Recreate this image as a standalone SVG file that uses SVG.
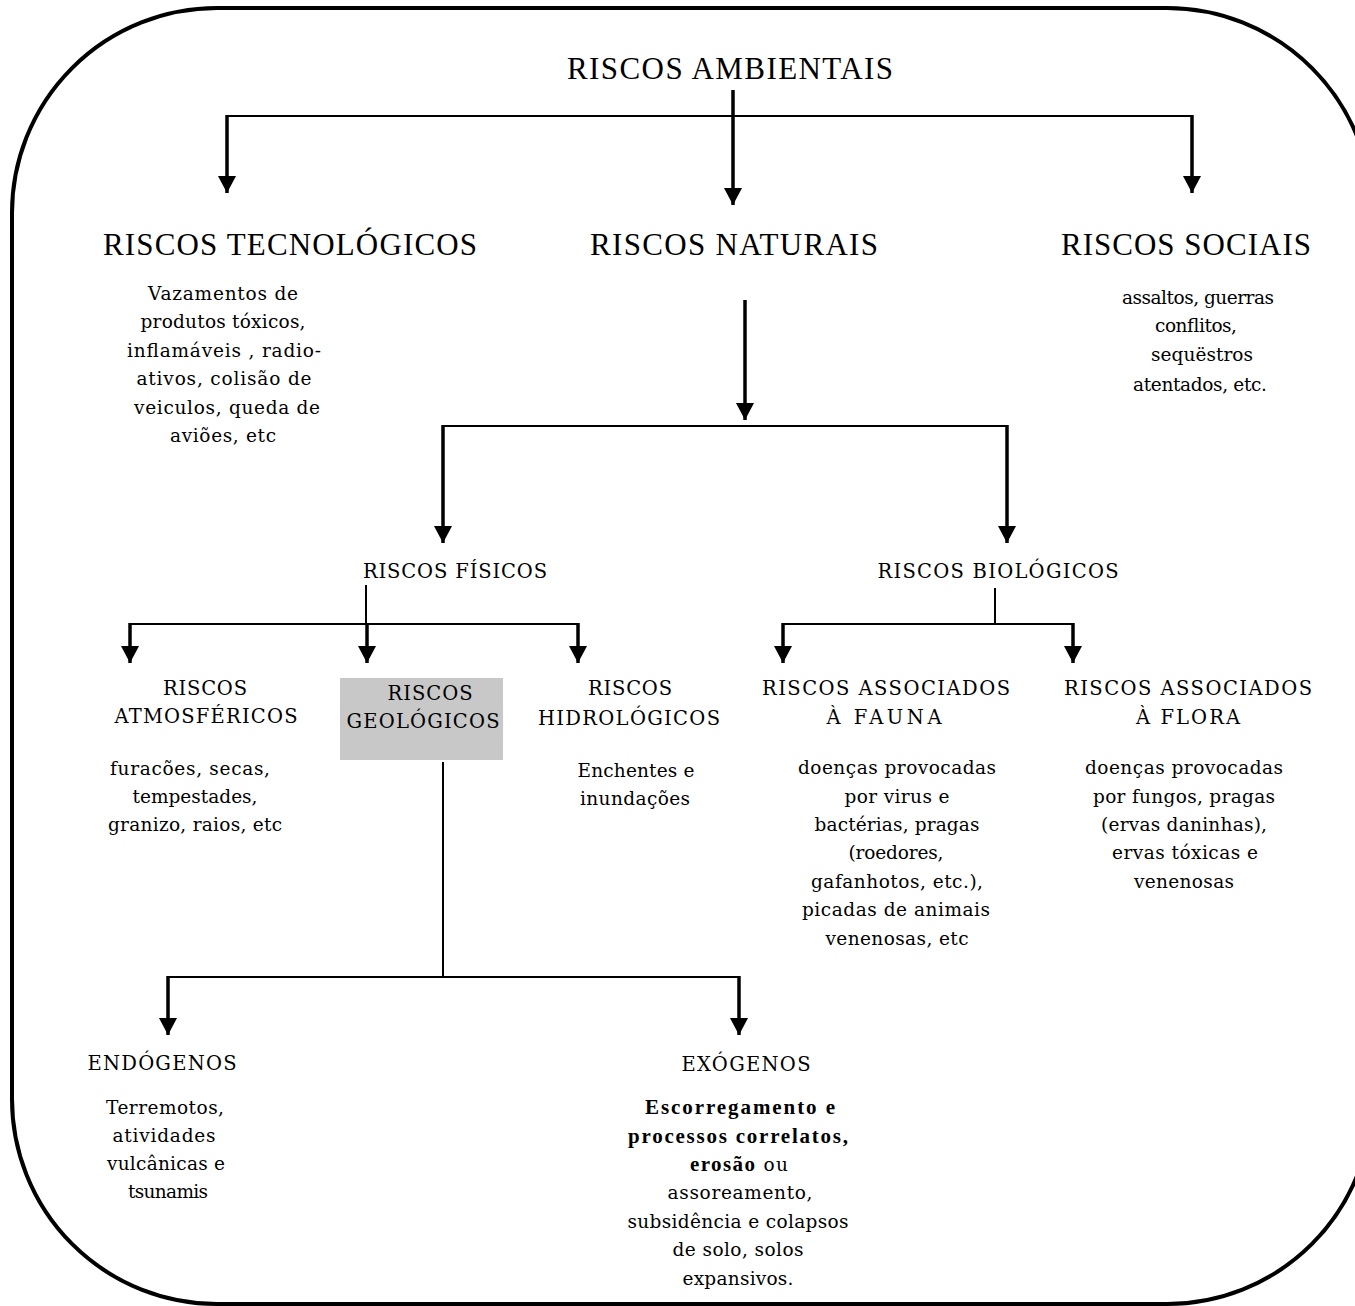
<svg xmlns="http://www.w3.org/2000/svg" width="1355" height="1306" viewBox="0 0 1355 1306">
<style>
text{font-family:"DejaVu Serif","Liberation Serif",serif;fill:#000;text-anchor:middle}
.h1{font-family:"Liberation Serif",serif;font-size:31px}
.h2{font-size:19.5px}
.b{font-size:18.5px}
.bb{font-family:"Liberation Serif",serif;font-size:21px;font-weight:bold}
.sh{stroke:#000;stroke-width:3.5;fill:none}
.hl{stroke:#000;stroke-width:2;fill:none}
</style>
<defs>
<marker id="ah" markerUnits="userSpaceOnUse" markerWidth="18" markerHeight="18" refX="17" refY="9" orient="auto">
<path d="M0,0 L17,9 L0,18 z" fill="#000"/>
</marker>
</defs>
<rect x="12" y="8" width="1360" height="1296" rx="205" ry="205" fill="#fff" stroke="#000" stroke-width="4"/>

<g id="connectors">
<path class="hl" d="M227,116 H1192"/>
<path class="sh" d="M733,90 V205" marker-end="url(#ah)"/>
<path class="sh" d="M227,115 V193" marker-end="url(#ah)"/>
<path class="sh" d="M1192,115 V193" marker-end="url(#ah)"/>
<path class="sh" d="M745,300 V420" marker-end="url(#ah)"/>
<path class="hl" d="M443,426 H1008"/>
<path class="sh" d="M443,425 V543" marker-end="url(#ah)"/>
<path class="sh" d="M1007,425 V543" marker-end="url(#ah)"/>
<path class="hl" d="M366,585 V624"/>
<path class="hl" d="M130,624 H578"/>
<path class="sh" d="M130,623 V663" marker-end="url(#ah)"/>
<path class="sh" d="M367,623 V663" marker-end="url(#ah)"/>
<path class="sh" d="M578,623 V663" marker-end="url(#ah)"/>
<path class="hl" d="M995,588 V624"/>
<path class="hl" d="M783,624 H1073"/>
<path class="sh" d="M783,623 V663" marker-end="url(#ah)"/>
<path class="sh" d="M1073,623 V663" marker-end="url(#ah)"/>
<path class="hl" d="M443,762 V977"/>
<path class="hl" d="M168,977 H739"/>
<path class="sh" d="M168,976 V1035" marker-end="url(#ah)"/>
<path class="sh" d="M739,976 V1035" marker-end="url(#ah)"/>
</g>

<g id="ambientais"><text class="h1" x="730" y="79" textLength="326" lengthAdjust="spacing">RISCOS AMBIENTAIS</text></g>

<g id="tecnologicos">
<text class="h1" x="290" y="255" textLength="374" lengthAdjust="spacing">RISCOS TECNOLÓGICOS</text>
<text class="b" x="223" y="300" textLength="150" lengthAdjust="spacing">Vazamentos de</text>
<text class="b" x="223" y="328" textLength="165" lengthAdjust="spacing">produtos tóxicos,</text>
<text class="b" x="224" y="357" textLength="194" lengthAdjust="spacing">inflamáveis , radio-</text>
<text class="b" x="224" y="385" textLength="175" lengthAdjust="spacing">ativos, colisão de</text>
<text class="b" x="227" y="414" textLength="186" lengthAdjust="spacing">veiculos, queda de</text>
<text class="b" x="223" y="442" textLength="106" lengthAdjust="spacing">aviões, etc</text>
</g>

<g id="naturais"><text class="h1" x="734" y="255" textLength="288" lengthAdjust="spacing">RISCOS NATURAIS</text></g>

<g id="sociais">
<text class="h1" x="1186" y="255" textLength="250" lengthAdjust="spacing">RISCOS SOCIAIS</text>
<text class="b" x="1198" y="304" textLength="152" lengthAdjust="spacing">assaltos, guerras</text>
<text class="b" x="1196" y="332" textLength="82" lengthAdjust="spacing">conflitos,</text>
<text class="b" x="1202" y="361" textLength="102" lengthAdjust="spacing">sequëstros</text>
<text class="b" x="1200" y="391" textLength="134" lengthAdjust="spacing">atentados, etc.</text>
</g>

<g id="fisicos"><text class="h2" x="455" y="578" textLength="184" lengthAdjust="spacing">RISCOS FÍSICOS</text></g>
<g id="biologicos"><text class="h2" x="998" y="578" textLength="241" lengthAdjust="spacing">RISCOS BIOLÓGICOS</text></g>

<g id="atmosfericos">
<text class="h2" x="205" y="695" textLength="84" lengthAdjust="spacing">RISCOS</text>
<text class="h2" x="206" y="723" textLength="183" lengthAdjust="spacing">ATMOSFÉRICOS</text>
<text class="b" x="190" y="775" textLength="160" lengthAdjust="spacing">furacões, secas,</text>
<text class="b" x="195" y="803" textLength="125" lengthAdjust="spacing">tempestades,</text>
<text class="b" x="195" y="831" textLength="174" lengthAdjust="spacing">granizo, raios, etc</text>
</g>

<g id="geologicos">
<rect x="340" y="678" width="163" height="82" fill="#c8c8c8"/>
<text class="h2" x="430" y="700" textLength="85" lengthAdjust="spacing">RISCOS</text>
<text class="h2" x="423" y="728" textLength="153" lengthAdjust="spacing">GEOLÓGICOS</text>
</g>

<g id="hidrologicos">
<text class="h2" x="630" y="695" textLength="84" lengthAdjust="spacing">RISCOS</text>
<text class="h2" x="629" y="725" textLength="182" lengthAdjust="spacing">HIDROLÓGICOS</text>
<text class="b" x="636" y="777" textLength="117" lengthAdjust="spacing">Enchentes e</text>
<text class="b" x="635" y="805" textLength="110" lengthAdjust="spacing">inundações</text>
</g>

<g id="fauna">
<text class="h2" x="886" y="695" textLength="248" lengthAdjust="spacing">RISCOS ASSOCIADOS</text>
<text class="h2" x="884" y="724" textLength="115" lengthAdjust="spacing">À  FAUNA</text>
<text class="b" x="897" y="774" textLength="198" lengthAdjust="spacing">doenças provocadas</text>
<text class="b" x="897" y="803" textLength="105" lengthAdjust="spacing">por virus e</text>
<text class="b" x="897" y="831" textLength="165" lengthAdjust="spacing">bactérias, pragas</text>
<text class="b" x="896" y="859" textLength="95" lengthAdjust="spacing">(roedores,</text>
<text class="b" x="897" y="888" textLength="172" lengthAdjust="spacing">gafanhotos, etc.),</text>
<text class="b" x="896" y="916" textLength="188" lengthAdjust="spacing">picadas de animais</text>
<text class="b" x="897" y="945" textLength="143" lengthAdjust="spacing">venenosas, etc</text>
</g>

<g id="flora">
<text class="h2" x="1188" y="695" textLength="248" lengthAdjust="spacing">RISCOS ASSOCIADOS</text>
<text class="h2" x="1188" y="724" textLength="104" lengthAdjust="spacing">À FLORA</text>
<text class="b" x="1184" y="774" textLength="198" lengthAdjust="spacing">doenças provocadas</text>
<text class="b" x="1184" y="803" textLength="182" lengthAdjust="spacing">por fungos, pragas</text>
<text class="b" x="1184" y="831" textLength="166" lengthAdjust="spacing">(ervas daninhas),</text>
<text class="b" x="1185" y="859" textLength="146" lengthAdjust="spacing">ervas tóxicas e</text>
<text class="b" x="1184" y="888" textLength="100" lengthAdjust="spacing">venenosas</text>
</g>

<g id="endogenos">
<text class="h2" x="162" y="1070" textLength="149" lengthAdjust="spacing">ENDÓGENOS</text>
<text class="b" x="165" y="1114" textLength="118" lengthAdjust="spacing">Terremotos,</text>
<text class="b" x="164" y="1142" textLength="103" lengthAdjust="spacing">atividades</text>
<text class="b" x="166" y="1170" textLength="118" lengthAdjust="spacing">vulcânicas e</text>
<text class="b" x="168" y="1198" textLength="80" lengthAdjust="spacing">tsunamis</text>
</g>

<g id="exogenos">
<text class="h2" x="746" y="1071" textLength="129" lengthAdjust="spacing">EXÓGENOS</text>
<text class="b bb" x="740" y="1114" textLength="190" lengthAdjust="spacing">Escorregamento e</text>
<text class="b bb" x="738" y="1143" textLength="220" lengthAdjust="spacing">processos correlatos,</text>
<text class="b" x="739" y="1171" textLength="98" lengthAdjust="spacing"><tspan class="bb">erosão</tspan> ou</text>
<text class="b" x="740" y="1199" textLength="145" lengthAdjust="spacing">assoreamento,</text>
<text class="b" x="738" y="1228" textLength="221" lengthAdjust="spacing">subsidência e colapsos</text>
<text class="b" x="738" y="1256" textLength="131" lengthAdjust="spacing">de solo, solos</text>
<text class="b" x="738" y="1285" textLength="111" lengthAdjust="spacing">expansivos.</text>
</g>
</svg>
